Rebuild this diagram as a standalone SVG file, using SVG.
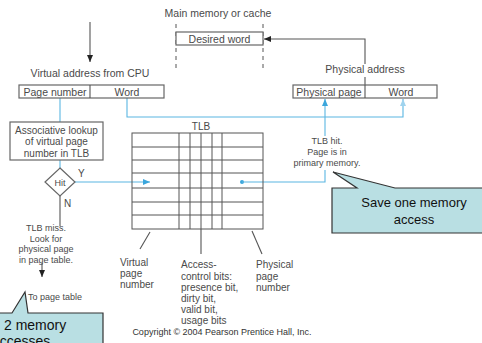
<svg xmlns="http://www.w3.org/2000/svg" width="482" height="343" viewBox="0 0 482 343">
<style>
text{font-family:"Liberation Sans",Arial,sans-serif;fill:#4a4a4a;}
.t{font-size:10.5px;}
.s{font-size:10px;}
.m{font-size:9px;}
.c{text-anchor:middle;}
.box{fill:#fff;stroke:#666;stroke-width:1.2;}
.ln{fill:none;stroke:#555;stroke-width:1.1;}
.bl{fill:none;stroke:#5ab6e2;stroke-width:1.1;}
.tlb{fill:none;stroke:#555;stroke-width:1;}
.call{fill:#b9dfe3;stroke:#333;stroke-width:1.2;}
.ct{font-size:13px;fill:#111;text-anchor:middle;}
.cl{font-size:14px;fill:#111;}
</style>
<defs>
<marker id="ak" markerWidth="8" markerHeight="8" refX="7" refY="4" orient="auto" markerUnits="userSpaceOnUse"><path d="M0,1 L7,4 L0,7 Z" fill="#222"/></marker>
<marker id="ab" markerWidth="8" markerHeight="8" refX="7" refY="4" orient="auto" markerUnits="userSpaceOnUse"><path d="M0,1 L7,4 L0,7 Z" fill="#3aa6dc"/></marker>
<marker id="al" markerWidth="8" markerHeight="8" refX="7" refY="4" orient="auto" markerUnits="userSpaceOnUse"><path d="M0,1 L7,4 L0,7 Z" fill="#9fd3ee"/></marker>
</defs>
<rect width="482" height="343" fill="#fff"/>

<g id="connectors">
<line class="ln" x1="90" y1="22" x2="90" y2="62" marker-end="url(#ak)"/>
<line x1="176" y1="24" x2="176" y2="72" stroke="#555" stroke-width="1" stroke-dasharray="4 4"/>
<line x1="263" y1="24" x2="263" y2="72" stroke="#555" stroke-width="1" stroke-dasharray="4 4"/>
<polyline class="ln" points="365,85 365,77"/>
<polyline class="ln" points="365,64 365,39 264,39" marker-end="url(#ak)"/>
<line class="bl" x1="60" y1="98" x2="60" y2="122"/>
<polyline class="bl" points="127,98 127,117 403,117 403,99" marker-end="url(#al)"/>
<line class="bl" x1="60" y1="160" x2="60" y2="168"/>
<line class="bl" x1="75" y1="182" x2="150" y2="182" marker-end="url(#ab)"/>
<circle cx="242" cy="182" r="2" fill="#3aa6dc"/>
<polyline class="bl" points="242,182 325,182 325,170"/>
<line class="bl" x1="325" y1="136" x2="325" y2="99" marker-end="url(#ab)"/>
<line class="ln" x1="60" y1="196" x2="60" y2="226"/>
<line class="ln" x1="42" y1="263" x2="42" y2="277" marker-end="url(#ak)"/>
<line class="ln" x1="150" y1="232" x2="140" y2="249"/>
<line class="ln" x1="201" y1="229" x2="201" y2="254"/>
<line class="ln" x1="252" y1="231" x2="262" y2="254"/>
</g>

<g id="main-memory">
<text class="t c" x="218" y="17">Main memory or cache</text>
<rect class="box" x="176" y="32" width="87" height="13"/>
<text class="t c" x="219.5" y="42.5">Desired word</text>
</g>

<g id="virtual-address">
<text class="t c" x="90" y="77">Virtual address from CPU</text>
<rect class="box" x="19" y="85" width="145" height="13"/>
<line class="ln" x1="90" y1="85" x2="90" y2="98"/>
<text class="t c" x="55" y="95.5">Page number</text>
<text class="t c" x="127" y="95.5">Word</text>
</g>

<g id="physical-address">
<text class="t c" x="365" y="73">Physical address</text>
<rect class="box" x="293" y="85" width="144" height="13"/>
<line class="ln" x1="365" y1="85" x2="365" y2="98"/>
<text class="t c" x="329" y="95.5">Physical page</text>
<text class="t c" x="401" y="95.5">Word</text>
</g>

<g id="lookup">
<rect class="box" x="10" y="122" width="93" height="38"/>
<text class="s c" x="56.5" y="133.5">Associative lookup</text>
<text class="s c" x="56.5" y="145">of virtual page</text>
<text class="s c" x="56.5" y="156.5">number in TLB</text>
</g>

<g id="hit">
<polygon class="box" points="60,168 75,182 60,196 45,182"/>
<text class="m c" x="60" y="185.5">Hit</text>
<text class="s" x="78" y="177">Y</text>
<text class="s" x="64" y="207">N</text>
</g>

<g id="tlb">
<text class="s c" x="201" y="130">TLB</text>
<rect class="tlb" x="132" y="133" width="131" height="96"/>
<path class="tlb" d="M132,147H263M132,160H263M132,173H263M132,188H263M132,202H263M132,215H263M179,133V229M190,133V229M201,133V229M212,133V229M222,133V229"/>
</g>

<g id="miss">
<text class="m c" x="46" y="231">TLB miss.</text>
<text class="m c" x="46" y="241.5">Look for</text>
<text class="m c" x="46" y="252">physical page</text>
<text class="m c" x="46" y="262.5">in page table.</text>
<text class="m c" x="55" y="300">To page table</text>
</g>

<g id="hit-text">
<text class="m c" x="327" y="144">TLB hit.</text>
<text class="m c" x="327" y="155">Page is in</text>
<text class="m c" x="327" y="166">primary memory.</text>
</g>

<g id="labels">
<text class="s" x="120" y="266">Virtual</text>
<text class="s" x="120" y="277">page</text>
<text class="s" x="120" y="288">number</text>
<text class="s" x="181" y="268">Access-</text>
<text class="s" x="181" y="279.5">control bits:</text>
<text class="s" x="181" y="291">presence bit,</text>
<text class="s" x="181" y="302">dirty bit,</text>
<text class="s" x="181" y="313">valid bit,</text>
<text class="s" x="181" y="324">usage bits</text>
<text class="s" x="256" y="268">Physical</text>
<text class="s" x="256" y="279.5">page</text>
<text class="s" x="256" y="291">number</text>
<text class="m c" x="222" y="335" style="fill:#333">Copyright © 2004 Pearson Prentice Hall, Inc.</text>
</g>

<g id="callout-save">
<path class="call" d="M332,188 H357 L333,172 L395,188 H484 V233 H332 Z"/>
<text class="ct" x="414" y="207">Save one memory</text>
<text class="ct" x="414" y="224">access</text>
</g>

<g id="callout-two">
<path class="call" d="M-30,313 H12 L25,292 L28,313 H103 V350 H-30 Z"/>
<text class="cl" x="4" y="330">2 memory</text>
<text class="cl" x="-8" y="346">accesses</text>
</g>
</svg>
